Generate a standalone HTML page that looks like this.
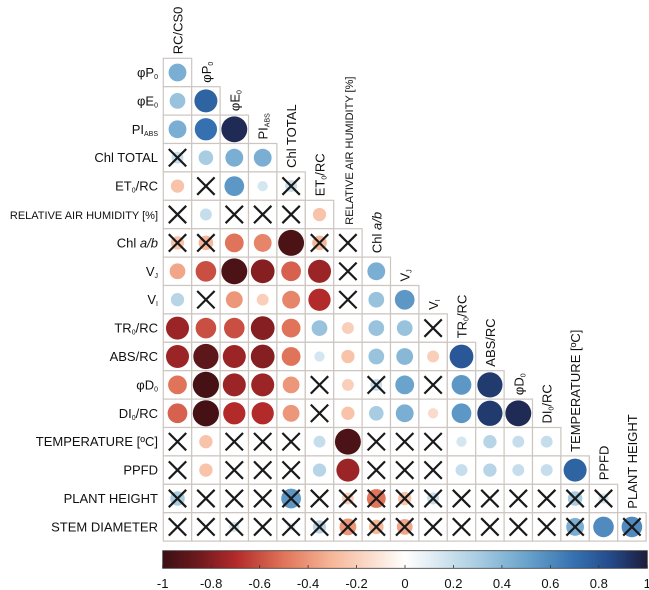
<!DOCTYPE html>
<html><head><meta charset="utf-8">
<style>
html,body{margin:0;padding:0;background:#fff;}
svg{display:block;font-family:"Liberation Sans",Arial,sans-serif;}
</style></head>
<body>
<svg id="chart" width="649" height="590" viewBox="0 0 649 590" xmlns="http://www.w3.org/2000/svg">
<defs>
<linearGradient id="cbgrad" x1="0" x2="1" y1="0" y2="0">
<stop offset="0" stop-color="#3b0f12"/>
<stop offset="0.075" stop-color="#6e1a1e"/>
<stop offset="0.15" stop-color="#b22a2a"/>
<stop offset="0.25" stop-color="#e0745a"/>
<stop offset="0.35" stop-color="#f7b799"/>
<stop offset="0.45" stop-color="#fbe6da"/>
<stop offset="0.5" stop-color="#ffffff"/>
<stop offset="0.55" stop-color="#e3eef5"/>
<stop offset="0.65" stop-color="#a8cde2"/>
<stop offset="0.75" stop-color="#6aa3cc"/>
<stop offset="0.85" stop-color="#3571b0"/>
<stop offset="0.925" stop-color="#244a8a"/>
<stop offset="1" stop-color="#1c1c3a"/>
</linearGradient>
</defs>
<g id="grid"></g>
<g id="rowlabels"></g>
<g id="collabels"></g>
<g id="colorbar"></g>
</svg>
<script>
// Variable labels (HTML allowed for subscripts via tspans)
const rowLabels = ["φP0","φE0","PIABS","Chl TOTAL","ET0/RC","RELATIVE AIR HUMIDITY [%]","Chl a/b","VJ","VI","TR0/RC","ABS/RC","φD0","DI0/RC","TEMPERATURE [ºC]","PPFD","PLANT HEIGHT","STEM DIAMETER"];
const colLabels = ["RC/CS0","φP0","φE0","PIABS","Chl TOTAL","ET0/RC","RELATIVE AIR HUMIDITY [%]","Chl a/b","VJ","VI","TR0/RC","ABS/RC","φD0","DI0/RC","TEMPERATURE [ºC]","PPFD","PLANT HEIGHT"];
// Correlation values per row (lower triangle)
const corrValues = [
 [0.45],
 [0.35,0.75],
 [0.45,0.7,0.95],
 [0.2,0.3,0.45,0.45],
 [-0.25,0.02,0.55,0.15,0.2],
 [0,0.2,0,0,0,-0.25],
 [-0.25,-0.3,-0.5,-0.45,-0.95,-0.3,0],
 [-0.35,-0.6,-0.95,-0.8,-0.55,-0.75,0,0.45],
 [0.25,0,-0.4,-0.2,-0.45,-0.7,0,0.35,0.55],
 [-0.75,-0.6,-0.6,-0.8,-0.5,0.35,-0.2,0.35,0.35,0],
 [-0.75,-0.9,-0.75,-0.8,-0.5,0.15,-0.25,0.35,0.4,-0.2,0.8],
 [-0.5,-0.97,-0.75,-0.75,-0.4,0,-0.2,0.2,0.5,0,0.55,0.9],
 [-0.55,-0.97,-0.7,-0.7,-0.4,0,-0.25,0.3,0.45,-0.15,0.55,0.9,0.95],
 [0,-0.25,0,0,0,0.2,-0.95,0,0,0,0.15,0.25,0.2,0.2],
 [0,-0.25,0,0,0,0.25,-0.75,0,0,0,0.2,0.25,0.2,0.2,0.75],
 [0.3,0,0,0,0.55,0,-0.2,-0.5,-0.25,0.2,0,0,0,0,0.3,0.15],
 [0,0,0.15,0,0.1,0.25,-0.4,-0.3,-0.35,0,0,0,0,0,0.45,0.6,0.6]
];
// Non-significant flags (1 = crossed out)
const notSignificant = [
 [0],
 [0,0],
 [0,0,0],
 [1,0,0,0],
 [0,1,0,0,1],
 [1,0,1,1,1,0],
 [1,1,0,0,0,1,1],
 [0,0,0,0,0,0,1,0],
 [0,1,0,0,0,0,1,0,0],
 [0,0,0,0,0,0,0,0,0,1],
 [0,0,0,0,0,0,0,0,0,0,0],
 [0,0,0,0,0,1,0,1,0,1,0,0],
 [0,0,0,0,0,1,0,0,0,0,0,0,0],
 [1,0,1,1,1,0,0,1,1,1,0,0,0,0],
 [1,0,1,1,1,0,0,1,1,1,0,0,0,0,0],
 [1,1,1,1,1,1,1,1,1,1,1,1,1,1,1,1],
 [1,1,1,1,1,1,1,1,1,1,1,1,1,1,1,0,1]
];
const tickValues = [-1,-0.8,-0.6,-0.4,-0.2,0,0.2,0.4,0.6,0.8,1];

const NS="http://www.w3.org/2000/svg";
const X0=163.3, Y0=58.3, CELL=28.4;
const xPos = j => X0 + j*CELL;
const yPos = i => Y0 + i*CELL;
const rScale = v => 13.3*Math.sqrt(Math.abs(v));
const stops=[[-1,[59,15,18]],[-0.85,[110,26,30]],[-0.7,[178,42,42]],[-0.5,[224,116,90]],[-0.3,[247,183,153]],[-0.1,[251,230,218]],[0,[255,255,255]],[0.1,[227,238,245]],[0.3,[168,205,226]],[0.5,[106,163,204]],[0.7,[53,113,176]],[0.85,[36,74,138]],[1,[28,28,58]]];
function colorOf(v){
  for(let k=0;k<stops.length-1;k++){
    const a=stops[k],b=stops[k+1];
    if(v>=a[0]&&v<=b[0]){const t=(v-a[0])/(b[0]-a[0]);
      const c=a[1].map((x,m)=>Math.round(x+(b[1][m]-x)*t));return `rgb(${c[0]},${c[1]},${c[2]})`;}
  }
  return "#fff";
}
function mk(tag,attrs,parent){const e=document.createElementNS(NS,tag);for(const k in attrs)e.setAttribute(k,attrs[k]);parent.appendChild(e);return e;}

// label renderer with subscripts
const subMap={"φP0":["φP","0"],"φE0":["φE","0"],"PIABS":["PI","ABS"],"ET0/RC":["ET","0","/RC"],"VJ":["V","J"],"VI":["V","I"],"TR0/RC":["TR","0","/RC"],"φD0":["φD","0"],"DI0/RC":["DI","0","/RC"],"RC/CS0":["RC/CS0"]};
function fillLabel(t,label){
  if(label==="Chl a/b"){t.appendChild(document.createTextNode("Chl "));const s=mk("tspan",{"font-style":"italic"},t);s.textContent="a/b";return;}
  const p=subMap[label];
  if(!p||p.length===1){t.textContent=label;return;}
  const a=mk("tspan",{},t);a.textContent=p[0];
  const b=mk("tspan",{"font-size":"7","dy":"2"},t);b.textContent=p[1];
  if(p[2]){const c=mk("tspan",{"dy":"-2"},t);c.textContent=p[2];}
}

const grid=document.getElementById("grid");
corrValues.forEach((row,i)=>{
  row.forEach((v,j)=>{
    const g=mk("g",{},grid);
    
    
    mk("rect",{x:xPos(j),y:yPos(i),width:CELL,height:CELL,fill:"#fff",stroke:"#cdc5c0","stroke-width":"1.2"},g);
    if(Math.abs(v)>0.01){
      const c=mk("circle",{cx:xPos(j)+CELL/2,cy:yPos(i)+CELL/2,r:rScale(v),fill:colorOf(v)},g);
      
      
    }
    if(notSignificant[i][j]){
      const p=5.5;
      mk("path",{d:`M${xPos(j)+p},${yPos(i)+p}L${xPos(j)+CELL-p},${yPos(i)+CELL-p}M${xPos(j)+CELL-p},${yPos(i)+p}L${xPos(j)+p},${yPos(i)+CELL-p}`,stroke:"#1a1a1a","stroke-width":"2.2",fill:"none"},g);
    }
  });
});

const rl=document.getElementById("rowlabels");
rowLabels.forEach((lab,i)=>{
  const small = lab.length>20;
  const t=mk("text",{x:158,y:yPos(i)+CELL/2+4.5,"text-anchor":"end","font-size":small?"11":"13",fill:"#111"},rl);
  
  
  fillLabel(t,lab);
});
const cl=document.getElementById("collabels");
colLabels.forEach((lab,j)=>{
  const small = lab.length>20;
  const x=xPos(j)+CELL/2+5, y=yPos(j)-4;
  const t=mk("text",{x:x,y:y,transform:`rotate(-90 ${x} ${y})`,"font-size":small?"11":"13",fill:"#111"},cl);
  
  
  fillLabel(t,lab);
});

const cb=document.getElementById("colorbar");
const CBX0=162.7, CBX1=647.3;
const cbX = v => CBX0 + (v+1)/2*(CBX1-CBX0);
const bar=mk("rect",{x:CBX0,y:550.7,width:CBX1-CBX0,height:17.6,fill:"url(#cbgrad)",stroke:"#333","stroke-width":"0.8"},cb);


tickValues.forEach(v=>{
  mk("line",{x1:cbX(v),x2:cbX(v),y1:568.3,y2:565,stroke:"#333","stroke-width":"0.8"},cb);
  const t=mk("text",{x:cbX(v),y:588,"text-anchor":"middle","font-size":"13",fill:"#111"},cb);
  
  
  t.textContent=String(v);
});
</script>
</body></html>
